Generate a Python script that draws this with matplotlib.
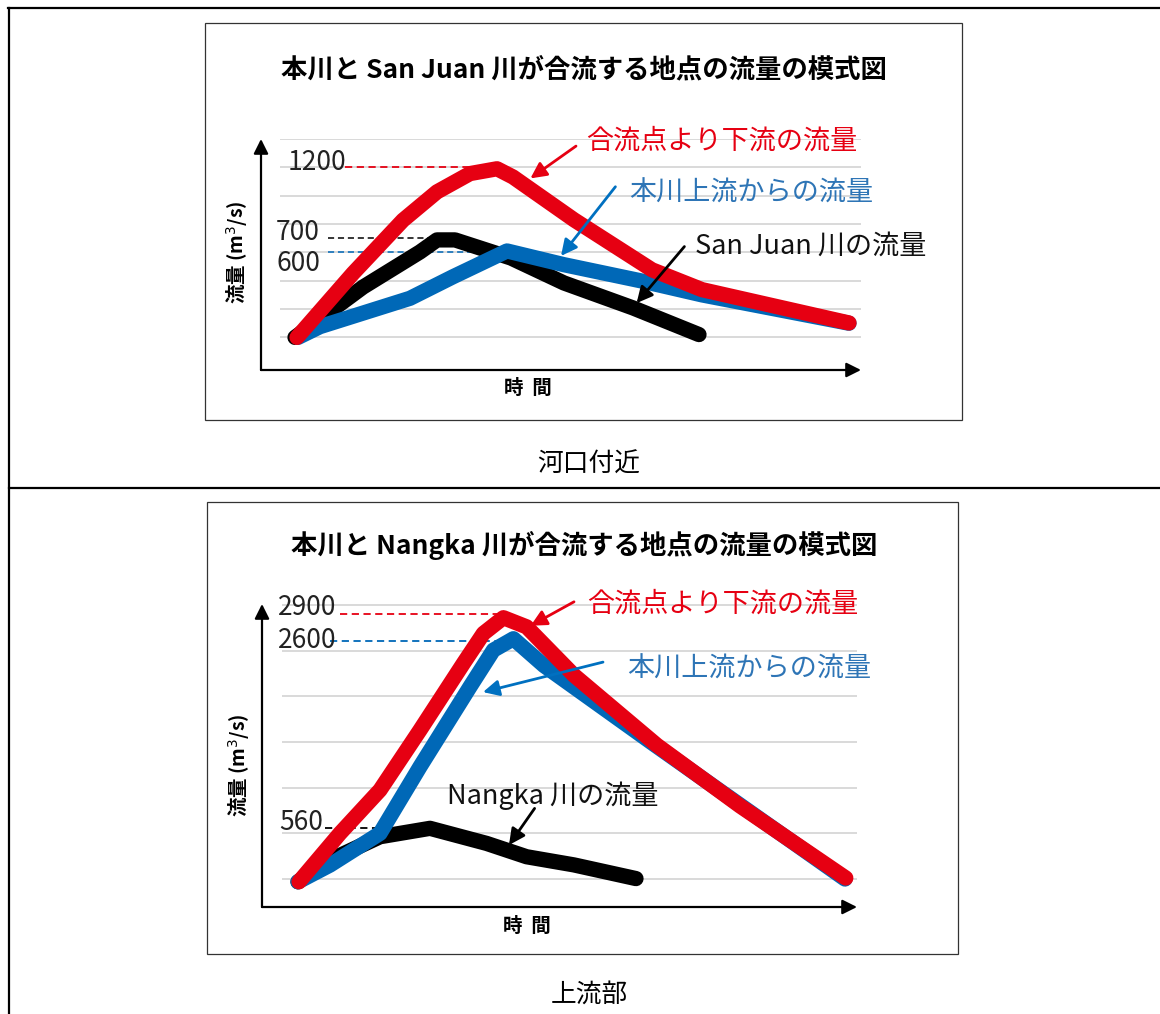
import matplotlib
matplotlib.use('Agg')
import matplotlib.pyplot as plt
from matplotlib.patches import Rectangle

plt.rcParams['font.family'] = ['Noto Sans CJK JP', 'DejaVu Sans']

W, H = 1160, 1014
RED = '#e60012'
BLUE = '#0068b7'
BLUE_TXT = '#2e75b6'
GRID = '#d9d9d9'
NUMFONT = ['Liberation Sans Narrow', 'Noto Sans CJK JP', 'DejaVu Sans']

# ---- chart 1: 河口付近 (San Juan) ----
title1 = '本川と San Juan 川が合流する地点の流量の模式図'
caption1 = '河口付近'
grid1 = [0, 200, 400, 600, 800, 1000, 1200, 1400]
t_red1 = [1.8, 4.6, 7.1, 8.8, 10.45, 11.8, 12.6, 15.65, 19.55, 22.05, 29.4]
v_red1 = [0, 452, 827, 1027, 1156, 1190, 1132, 830, 477, 337, 102]
t_blue1 = [1.85, 2.95, 7.45, 9.6, 12.3, 15.15, 19.1, 22.05, 29.4]
v_blue1 = [0, 76, 276, 428, 610, 513, 396, 300, 100]
t_blk1 = [1.7, 5.1, 7.95, 8.8, 9.7, 12.5, 15.15, 18.6, 21.9]
v_blk1 = [0, 355, 603, 688, 688, 560, 384, 208, 20]
names1 = ['合流点より下流の流量', '本川上流からの流量', 'San Juan 川の流量']
marks1 = [1200, 700, 600]

# ---- chart 2: 上流部 (Nangka) ----
title2 = '本川と Nangka 川が合流する地点の流量の模式図'
caption2 = '上流部'
grid2 = [0, 500, 1000, 1500, 2000, 2500, 3000]
t_red2 = [1.85, 3.9, 5.9, 7.9, 10.07, 11.07, 12.07, 13.23, 15.6, 19.75, 23.9, 29.19]
v_red2 = [-30, 500, 974, 1630, 2360, 2688, 2860, 2760, 2230, 1464, 800, 11]
t_blue2 = [1.8, 3.4, 5.9, 7.9, 10.4, 11.57, 12.57, 14.1, 19.5, 29.15]
v_blue2 = [-30, 153, 500, 1229, 2104, 2505, 2630, 2336, 1490, 0]
t_blk2 = [1.8, 3.4, 5.9, 8.4, 11.23, 13.23, 15.59, 18.7]
v_blk2 = [-30, 208, 463, 555, 390, 244, 155, 5]
names2 = ['合流点より下流の流量', '本川上流からの流量', 'Nangka 川の流量']
marks2 = [2900, 2600, 560]


def px_axes(fig, left, top, right, bottom):
    return fig.add_axes([left / W, 1 - bottom / H, (right - left) / W, (bottom - top) / H])


fig = plt.figure(figsize=(W / 100, H / 100), dpi=100)
bg = fig.add_axes([0, 0, 1, 1])
bg.set_xlim(0, W)
bg.set_ylim(H, 0)
bg.axis('off')

# table frame
bg.plot([8, W], [8, 8], color='black', lw=1.6)
bg.plot([9, 9], [8, H], color='black', lw=1.6)
bg.plot([9, W], [488, 488], color='black', lw=1.6)

# chart frames
bg.add_patch(Rectangle((205, 23), 757, 397, fill=False, ec='#333333', lw=0.9))
bg.add_patch(Rectangle((207, 502), 751, 452, fill=False, ec='#333333', lw=0.9))

# titles, axis labels, captions
bg.text(584, 70, title1, ha='center', va='center', fontsize=19, fontweight='bold')
bg.text(584, 545, title2, ha='center', va='center', fontsize=19, fontweight='bold')
for x, y in [(237, 252), (239, 765)]:
    bg.text(x, y, '流量 (m$^3$/s)', rotation=90, ha='center', va='center',
            fontsize=14, fontweight='bold')
bg.text(528, 388, '時  間', ha='center', va='center', fontsize=14, fontweight='bold')
bg.text(527, 926, '時  間', ha='center', va='center', fontsize=14, fontweight='bold')
bg.text(589, 465, caption1, ha='center', va='center', fontsize=18.5)
bg.text(589, 995, caption2, ha='center', va='center', fontsize=18.5)


def draw_chart(ax, xmax, ymin, ymax, grid, gx0, gx1,
               tr, vr, tb, vb, tk, vk):
    ax.set_xlim(0, xmax)
    ax.set_ylim(ymin, ymax)
    ax.patch.set_alpha(0)
    for s in ax.spines.values():
        s.set_visible(False)
    ax.set_xticks([])
    ax.set_yticks([])
    ax.hlines(grid, gx0, gx1, color=GRID, lw=1.4, zorder=1)
    ax.annotate('', xy=(xmax, ymin), xytext=(0, ymin), annotation_clip=False,
                arrowprops=dict(arrowstyle='-|>', lw=1.6, color='black', mutation_scale=22, shrinkA=0, shrinkB=0))
    ax.annotate('', xy=(0, ymax), xytext=(0, ymin), annotation_clip=False,
                arrowprops=dict(arrowstyle='-|>', lw=1.6, color='black', mutation_scale=22, shrinkA=0, shrinkB=0))
    kw = dict(lw=11, solid_capstyle='round', solid_joinstyle='round', clip_on=False)
    ax.plot(tk, vk, color='black', zorder=3, **kw)
    ax.plot(tb, vb, color=BLUE, zorder=4, **kw)
    ax.plot(tr, vr, color=RED, zorder=5, **kw)


def arrow(ax, tail, head, color):
    ax.annotate('', xy=head, xytext=tail, annotation_clip=False, zorder=6,
                arrowprops=dict(arrowstyle='-|>', lw=2, color=color, mutation_scale=24,
                                shrinkA=0, shrinkB=0))


# ---- chart 1 ----
ax1 = px_axes(fig, 261, 139, 861, 370)
draw_chart(ax1, 30, -230, 1400, grid1, 0.95, 30.05,
           t_red1, v_red1, t_blue1, v_blue1, t_blk1, v_blk1)
ax1.hlines(marks1[0], 4.2, 11.7, color=RED, lw=1.3, ls=(0, (4, 2.5)), zorder=2)
ax1.hlines(marks1[1], 3.35, 8.95, color='black', lw=1.1, ls=(0, (4, 2.5)), zorder=2)
ax1.hlines(marks1[2], 3.35, 12.45, color=BLUE, lw=1.1, ls=(0, (4, 2.5)), zorder=2)
ax1.text(4.25, 1235, str(marks1[0]), ha='right', va='center', fontsize=19, family=NUMFONT, color='#222222')
ax1.text(2.95, 740, str(marks1[1]), ha='right', va='center', fontsize=19, family=NUMFONT, color='#222222')
ax1.text(2.95, 525, str(marks1[2]), ha='right', va='center', fontsize=19, family=NUMFONT, color='#222222')
ax1.text(16.25, 1384, names1[0], ha='left', va='center', fontsize=19.5, color=RED)
ax1.text(18.4, 1018, names1[1], ha='left', va='center', fontsize=19.5, color=BLUE_TXT)
ax1.text(21.7, 644, names1[2], ha='left', va='center', fontsize=19.5, color='#111111')
arrow(ax1, (15.75, 1350), (13.47, 1122), RED)
arrow(ax1, (17.72, 1063), (15.0, 575), '#0070c0')
arrow(ax1, (21.17, 641), (18.78, 242), 'black')

# ---- chart 2 ----
ax2 = px_axes(fig, 262, 604, 857, 907)
draw_chart(ax2, 29.75, -306, 3010, grid2, 1.0, 29.8,
           t_red2, v_red2, t_blue2, v_blue2, t_blk2, v_blk2)
ax2.hlines(marks2[0], 3.9, 12.15, color=RED, lw=1.3, ls=(0, (4, 2.5)), zorder=2)
ax2.hlines(marks2[1], 3.4, 12.65, color=BLUE, lw=1.3, ls=(0, (4, 2.5)), zorder=2)
ax2.hlines(marks2[2], 3.15, 8.4, color='black', lw=1.3, ls=(0, (4, 2.5)), zorder=2)
ax2.text(3.7, 2976, str(marks2[0]), ha='right', va='center', fontsize=19, family=NUMFONT, color='#222222')
ax2.text(3.7, 2615, str(marks2[1]), ha='right', va='center', fontsize=19, family=NUMFONT, color='#222222')
ax2.text(3.05, 624, str(marks2[2]), ha='right', va='center', fontsize=19, family=NUMFONT, color='#222222')
ax2.text(16.25, 3009, names2[0], ha='left', va='center', fontsize=19.5, color=RED)
ax2.text(18.25, 2297, names2[1], ha='left', va='center', fontsize=19.5, color=BLUE_TXT)
ax2.text(9.25, 908, names2[2], ha='left', va='center', fontsize=19.5, color='#111111')
arrow(ax2, (15.6, 3034), (13.43, 2772), RED)
arrow(ax2, (17.05, 2374), (11.05, 2046), '#0070c0')
arrow(ax2, (13.63, 773), (12.35, 372), 'black')

fig.savefig('out.png', dpi=100)
